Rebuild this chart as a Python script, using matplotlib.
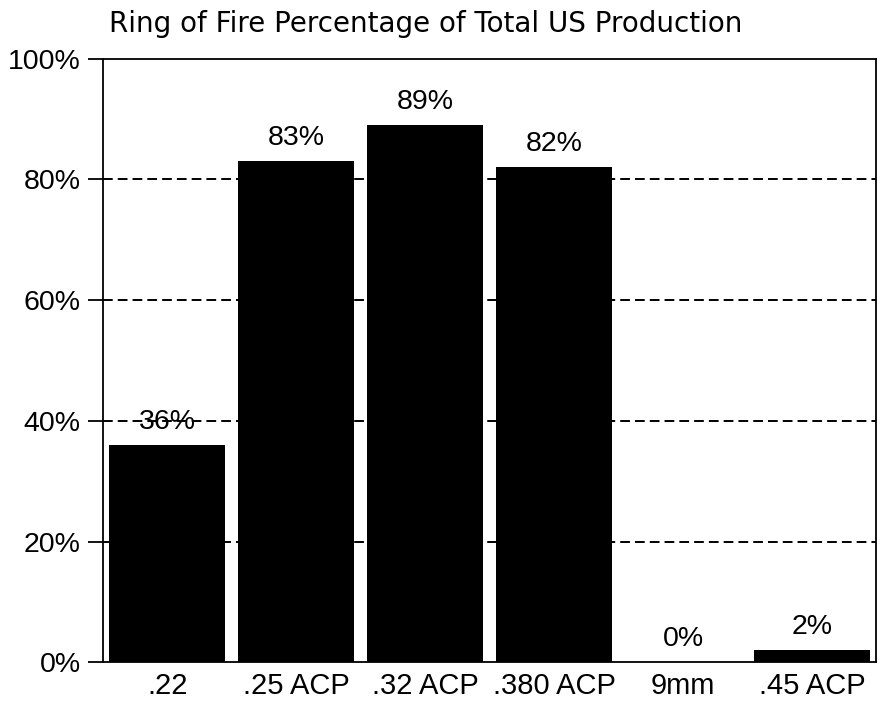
import matplotlib
matplotlib.use("Agg")
import matplotlib.pyplot as plt

categories = [".22", ".25 ACP", ".32 ACP", ".380 ACP", "9mm", ".45 ACP"]
shares = [36, 83, 89, 82, 0, 2]
y_ticks = [0, 20, 40, 60, 80, 100]
y_tick_labels = ["0%", "20%", "40%", "60%", "80%", "100%"]

plt.rcParams["font.family"] = ["Liberation Sans", "DejaVu Sans"]

fig = plt.figure(figsize=(8.84, 7.06), dpi=100)
ax = fig.add_axes([0.1165, 0.062, 0.875, 0.855])

x = range(len(categories))
ax.bar(x, shares, width=0.9, color="black", zorder=2)

for yv in y_ticks[1:-1]:
    ax.axhline(yv, color="black", lw=1.4, ls=(0, (5, 2.6)), zorder=1)

for xi, v in zip(x, shares):
    ax.text(xi, v + 2.7, f"{v}%", ha="center", va="baseline", fontsize=20.5, zorder=3)

ax.set_xlim(-0.5, len(categories) - 0.5)
ax.set_ylim(0, 100)
ax.set_yticks(y_ticks)
ax.set_yticklabels(y_tick_labels, fontsize=20.5)
ax.set_xticks(list(x))
ax.set_xticklabels(categories, fontsize=21)
ax.tick_params(axis="x", length=0, pad=7)
ax.tick_params(axis="y", length=11, width=1.3, pad=5)
for s in ax.spines.values():
    s.set_linewidth(1.3)

fig.text(0.4813, 1 - 32 / 706, "Ring of Fire Percentage of Total US Production",
         ha="center", va="baseline", fontsize=20, family="DejaVu Sans")

fig.savefig("out.png", dpi=100, facecolor="white")
